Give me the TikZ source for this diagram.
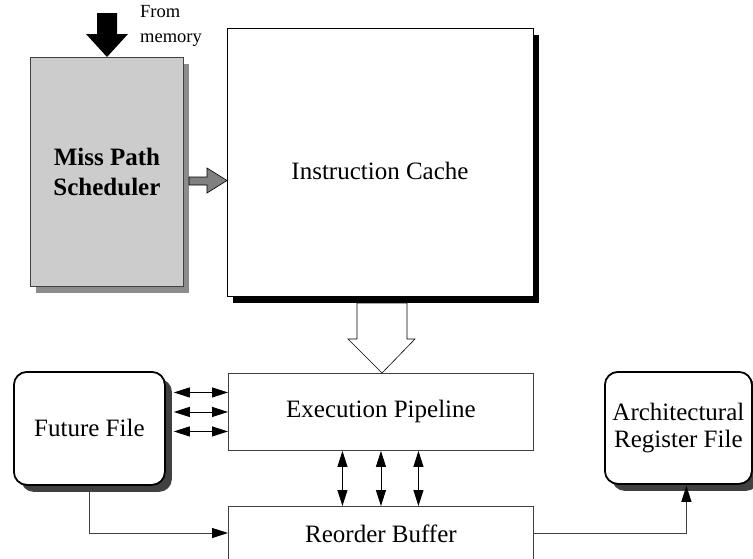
\documentclass[tikz,border=0pt]{standalone}
\usepackage{fontspec}
\setmainfont{Liberation Serif}
\usetikzlibrary{arrows.meta,shadows,calc}
\begin{document}
\begin{tikzpicture}[x=1pt,y=-1pt,
  txt/.style={font=\fontsize{25}{27}\selectfont, align=center},
  box/.style={draw=black!75, line width=0.9pt, anchor=north west, inner sep=0pt, txt},
  grayshadow/.style={drop shadow={shadow xshift=6pt, shadow yshift=-7pt, fill=black!45, opacity=1}},
  blackshadow/.style={drop shadow={shadow xshift=6pt, shadow yshift=-7pt, fill=black, opacity=1}},
  darkshadow/.style={drop shadow={shadow xshift=7pt, shadow yshift=-7pt, fill=black!75, opacity=1}},
  filebox/.style={box, draw=black, line width=1.8pt, rounded corners=13pt, fill=white, darkshadow},
  dbl/.style={{Triangle[length=16pt,width=10pt]}-{Triangle[length=16pt,width=10pt]}, line width=0.9pt},
  sgl/.style={-{Triangle[length=16pt,width=10pt,color=black]}, draw=black!75, line width=0.9pt},
]
\useasboundingbox (0,0) rectangle (753,558);
\clip (0,0) rectangle (753,558);

% main blocks
\node[box, fill=black!20, grayshadow, minimum width=153pt, minimum height=229pt,
      font=\fontsize{25}{30}\selectfont\bfseries] (mps) at (30,57) {Miss Path\\Scheduler};
\node[box, draw=black, fill=white, blackshadow, minimum width=306pt, minimum height=268pt] (ic) at (227,28) {};
\node[txt] (ictext) at (380,171) {Instruction Cache};
\node[box, fill=white, minimum width=305pt, minimum height=77pt] (ep) at (228,373) {Execution Pipeline};
\node[box, fill=white, minimum width=305pt, minimum height=56pt] (rb) at (228,506) {};
\node[box, draw=none, minimum width=305pt, minimum height=54pt] (rbtext) at (228,506) {Reorder Buffer};
\node[filebox, minimum width=151pt, minimum height=113pt] (ff) at (13,371) {Future File};
\node[filebox, minimum width=147pt, minimum height=112pt] (arf) at (604,371) {Architectural\\Register File};

% memory input arrow
\fill[black] (97,13) -- (117,13) -- (117,34) -- (128,34) -- (mps.north -| 107,0) -- (86,34) -- (97,34) -- cycle;
\node[font=\fontsize{18.5}{25}\selectfont, align=left, anchor=north west, inner sep=0pt] (mem) at (140,5) {From\\memory};

% scheduler to cache
\draw[fill=black!50, line width=0.6pt] (189,177) -- (207,177) -- (207,168) -- (ic.west |- 0,180.5) -- (207,193) -- (207,185) -- (189,185) -- cycle;

% cache to pipeline
\draw[fill=white, line width=0.6pt] (357,303) -- (407,303) -- (407,339) -- (415,339) -- (ep.north -| 382,0) -- (348,339) -- (357,339) -- cycle;

% future file <-> pipeline
\coordinate (ffs) at ([xshift=8pt]ff.east);
\foreach \dy/\n in {19.5/a, 0/b, -19.5/c}{
  \coordinate (e\n) at ([yshift=\dy pt]ep.west);
  \draw[dbl] (ffs |- e\n) -- (e\n);
}

% pipeline <-> reorder buffer
\foreach \dx/\n in {-38.5/a, 0/b, 37.5/c}{
  \coordinate (p\n) at ([xshift=\dx pt]ep.south);
  \draw[dbl] (p\n) -- (p\n |- rb.north);
}

% future file -> reorder buffer
\coordinate (rbin) at (rb.west |- 0,533);
\draw[sgl] (ff.south) |- (rbin);

% reorder buffer -> architectural register file
\coordinate (arfin) at ([xshift=8pt]arf.south);
\draw[sgl] (rb.east |- rbin) -| ([yshift=-1pt]arfin);
\end{tikzpicture}
\end{document}
